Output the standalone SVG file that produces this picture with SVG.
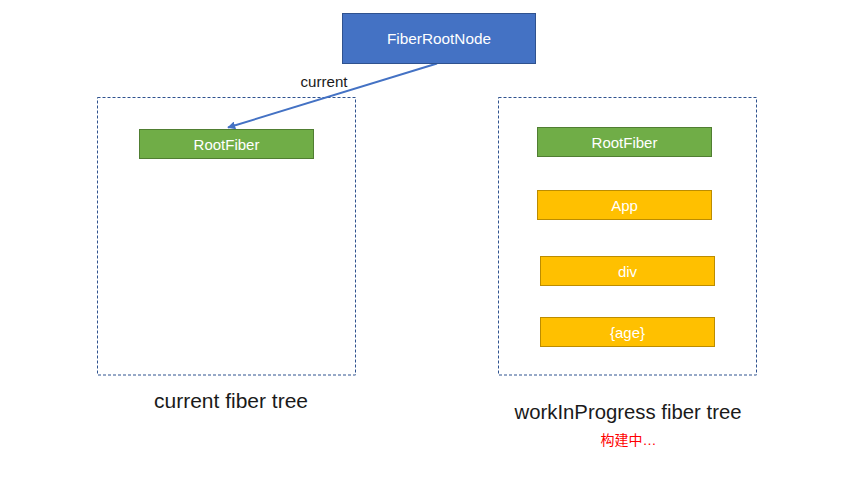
<svg xmlns="http://www.w3.org/2000/svg" width="853" height="480" viewBox="0 0 853 480">
<style>
.frame{fill:none;stroke:#2F528F;stroke-width:1;stroke-dasharray:3,2}
.blue{fill:#4472C4;stroke:#2F528F;stroke-width:1}
.green{fill:#70AD47;stroke:#507E32;stroke-width:1}
.yellow{fill:#FFC000;stroke:#BC8C00;stroke-width:1}
.nt{font-family:"Liberation Sans","Noto Sans",sans-serif;font-size:15px;fill:#FFFFFF;text-anchor:middle}
.lbl{font-family:"Liberation Sans","Noto Sans",sans-serif;fill:#1A1A1A;text-anchor:middle}
</style>
<defs>
<marker id="ah" viewBox="0 0 10 10" refX="9" refY="5" markerWidth="4" markerHeight="4" orient="auto" markerUnits="strokeWidth">
<path d="M0,0 L10,5 L0,10 z" fill="#4472C4"/>
</marker>
</defs>
<rect width="853" height="480" fill="#FFFFFF"/>
<g id="frames">
<rect class="frame" x="97.5" y="97.5" width="258" height="277.5"/>
<rect class="frame" x="498.5" y="97.5" width="258" height="277.5"/>
</g>
<g id="connectors">
<line x1="437" y1="63.5" x2="228" y2="127.5" stroke="#4472C4" stroke-width="2" marker-end="url(#ah)"/>
<text class="lbl" x="324" y="87" font-size="14" textLength="47" lengthAdjust="spacingAndGlyphs">current</text>
</g>
<g id="FiberRootNode">
<rect class="blue" x="342.5" y="13.5" width="193" height="50"/>
<text class="nt" x="439" y="44" textLength="104" lengthAdjust="spacingAndGlyphs">FiberRootNode</text>
</g>
<g id="RootFiberCurrent">
<rect class="green" x="139.5" y="129.5" width="174" height="29"/>
<text class="nt" x="226.5" y="150">RootFiber</text>
</g>
<g id="RootFiberWip">
<rect class="green" x="537.5" y="127.5" width="174" height="29"/>
<text class="nt" x="624.5" y="147.5">RootFiber</text>
</g>
<g id="App">
<rect class="yellow" x="537.5" y="190.5" width="174" height="29"/>
<text class="nt" x="624.5" y="211">App</text>
</g>
<g id="div">
<rect class="yellow" x="540.5" y="256.5" width="174" height="29"/>
<text class="nt" x="627.5" y="277">div</text>
</g>
<g id="age">
<rect class="yellow" x="540.5" y="317.5" width="174" height="29"/>
<text class="nt" x="627.5" y="337.5">{age}</text>
</g>
<g id="captions">
<text class="lbl" x="231" y="408" font-size="20" textLength="154" lengthAdjust="spacingAndGlyphs">current fiber tree</text>
<text class="lbl" x="628" y="418.5" font-size="20" textLength="227" lengthAdjust="spacingAndGlyphs">workInProgress fiber tree</text>
<text x="628.5" y="444.5" font-family="'Liberation Sans','Noto Sans CJK SC',sans-serif" font-size="14" fill="#FF0000" text-anchor="middle">构建中…</text>
</g>
</svg>
